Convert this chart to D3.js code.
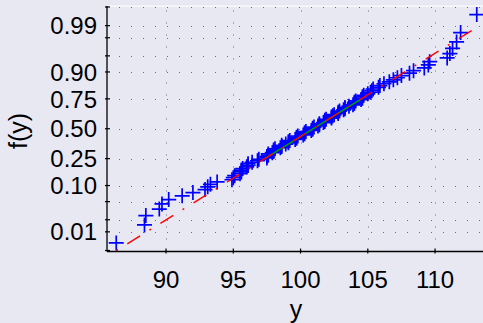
<!DOCTYPE html>
<html><head><meta charset="utf-8">
<script src="https://cdn.jsdelivr.net/npm/d3@7"></script>
<style>html,body{margin:0;padding:0;background:#e8e8f2;overflow:hidden}</style>
</head><body>
<svg id="c" width="483" height="323"></svg>
<script>
// Sorted sample values (n = 100)
const sampleValues = [
 86.3, 88.4, 88.5, 89.5, 89.7, 90.2, 91.2, 92.0, 92.9, 93.1,
 93.3, 93.8, 94.9, 95.0, 95.1, 95.5, 95.6, 95.6, 95.7, 96.0,
 96.1, 96.1, 96.4, 96.8, 96.9, 97.5, 97.5, 97.6, 97.6, 97.9,
 98.0, 98.0, 98.1, 98.5, 98.6, 98.6, 98.9, 99.1, 99.1, 99.2,
 99.6, 99.7, 99.7, 99.8, 100.2, 100.3, 100.3, 100.4, 100.8, 100.9,
 100.9, 101.0, 101.3, 101.4, 101.4, 101.7, 101.8, 101.8, 101.9, 102.3,
 102.3, 102.4, 102.5, 102.8, 102.8, 102.9, 103.2, 103.3, 103.3, 103.6,
 103.9, 104.0, 104.0, 104.1, 104.5, 104.6, 104.6, 104.7, 105.0, 105.2,
 105.3, 105.4, 105.8, 105.9, 106.2, 106.6, 106.9, 107.2, 107.5, 108.1,
 108.4, 109.2, 109.5, 109.6, 110.9, 111.1, 111.3, 111.6, 111.9, 113.1
];
const xTicks = [90, 95, 100, 105, 110];
const probTicks = [0.003, 0.01, 0.02, 0.05, 0.10, 0.25, 0.50, 0.75, 0.90, 0.95, 0.98, 0.99, 0.997];
const probLabels = ["", "0.01", "", "", "0.10", "0.25", "0.50", "0.75", "0.90", "", "", "0.99", ""];
const xLabel = "y";
const yLabel = "f(y)";

// inverse standard normal CDF (Acklam)
function norminv(p){
  const a=[-3.969683028665376e+01,2.209460984245205e+02,-2.759285104469687e+02,1.383577518672690e+02,-3.066479806614716e+01,2.506628277459239e+00];
  const b=[-5.447609879822406e+01,1.615858368580409e+02,-1.556989798598866e+02,6.680131188771972e+01,-1.328068155288572e+01];
  const c=[-7.784894002430293e-03,-3.223964580411365e-01,-2.400758277161838e+00,-2.549671010336200e+00,4.374664141464968e+00,2.938163982698783e+00];
  const d=[7.784695709041462e-03,3.224671290700398e-01,2.445134137142996e+00,3.754408661907416e+00];
  const pl=0.02425;
  let q,r;
  if(p<pl){q=Math.sqrt(-2*Math.log(p));return (((((c[0]*q+c[1])*q+c[2])*q+c[3])*q+c[4])*q+c[5])/((((d[0]*q+d[1])*q+d[2])*q+d[3])*q+1);}
  if(p>1-pl){q=Math.sqrt(-2*Math.log(1-p));return -(((((c[0]*q+c[1])*q+c[2])*q+c[3])*q+c[4])*q+c[5])/((((d[0]*q+d[1])*q+d[2])*q+d[3])*q+1);}
  q=p-0.5;r=q*q;
  return (((((a[0]*r+a[1])*r+a[2])*r+a[3])*r+a[4])*r+a[5])*q/(((((b[0]*r+b[1])*r+b[2])*r+b[3])*r+b[4])*r+1);
}

const L=107, R=489, T=6, B=251.5;
const svg=d3.select("#c");
const x=d3.scaleLinear().domain([85.613,114.01]).range([L,R]);
const y=d3.scaleLinear().domain([-2.77,2.77]).range([B,T]);

const n=sampleValues.length;
const pts=sampleValues.map((v,i)=>({x:v,z:norminv((i+0.5)/n)}));

// grid
const g=svg.append("g");
g.selectAll(".vg").data(xTicks).enter().append("line")
 .attr("x1",d=>Math.round(x(d))+0.5).attr("x2",d=>Math.round(x(d))+0.5)
 .attr("y1",B).attr("y2",T)
 .attr("stroke","#6e6e6e").attr("stroke-width",1).attr("stroke-dasharray","1,11");
g.selectAll(".hg").data(probTicks).enter().append("line")
 .attr("x1",L+12).attr("x2",R)
 .attr("y1",d=>Math.round(y(norminv(d)))+0.5).attr("y2",d=>Math.round(y(norminv(d)))+0.5)
 .attr("stroke","#6e6e6e").attr("stroke-width",1).attr("stroke-dasharray","1,11");

// markers
svg.append("g").selectAll("path").data(pts).enter().append("path")
 .attr("d",d=>`M${x(d.x)-7.5},${y(d.z)}H${x(d.x)+7.5}M${x(d.x)},${y(d.z)-7.5}V${y(d.z)+7.5}`)
 .attr("stroke","#0000ff").attr("stroke-width",1.7).attr("fill","none");

// reference lines
const q25=d3.quantile(sampleValues,0.25), q75=d3.quantile(sampleValues,0.75);
const z25=norminv(0.25), z75=norminv(0.75);
const slope=(z75-z25)/(q75-q25);
const lineZ=v=>z25+(v-q25)*slope;
const xmin=d3.min(sampleValues), xmax=d3.max(sampleValues);
svg.append("line").attr("x1",x(q25)).attr("y1",y(z25)).attr("x2",x(q75)).attr("y2",y(z75))
 .attr("stroke","#00a000").attr("stroke-width",1.4);
svg.append("line").attr("x1",x(xmin)).attr("y1",y(lineZ(xmin))).attr("x2",x(xmax)).attr("y2",y(lineZ(xmax)))
 .attr("stroke","#ff0000").attr("stroke-width",1.4).attr("stroke-dasharray","2,11,15,11");

// axes box
svg.append("line").attr("x1",L).attr("x2",R+5).attr("y1",T).attr("y2",T).attr("stroke","#ffffff").attr("stroke-width",1.2);
svg.append("line").attr("x1",L).attr("x2",L).attr("y1",T).attr("y2",B).attr("stroke","#000").attr("stroke-width",1.3);
svg.append("line").attr("x1",L).attr("x2",R+5).attr("y1",B).attr("y2",B).attr("stroke","#000").attr("stroke-width",1.3);

const FONT="Liberation Sans, Arial, sans-serif";
// y ticks
const yt=svg.append("g");
probTicks.forEach((p,i)=>{
  const yy=y(norminv(p));
  yt.append("line").attr("x1",L-2).attr("x2",L+3).attr("y1",yy).attr("y2",yy).attr("stroke","#000").attr("stroke-width",1.2);
  if(probLabels[i]) yt.append("text").attr("x",L-10).attr("y",yy).attr("dy","0.36em")
   .attr("text-anchor","end").attr("font-family",FONT).attr("font-size",24).attr("fill","#000").text(probLabels[i]);
});
// x ticks
xTicks.forEach(t=>{
  const xx=x(t);
  svg.append("line").attr("x1",xx).attr("x2",xx).attr("y1",B-3).attr("y2",B+2).attr("stroke","#000").attr("stroke-width",1.2);
  svg.append("text").attr("x",xx).attr("y",288).attr("text-anchor","middle")
   .attr("font-family",FONT).attr("font-size",24).attr("fill","#000").text(t);
});
svg.append("text").attr("x",296).attr("y",318).attr("text-anchor","middle")
 .attr("font-family",FONT).attr("font-size",25).text(xLabel);
svg.append("text").attr("transform","translate(27,131) rotate(-90)").attr("text-anchor","middle")
 .attr("font-family",FONT).attr("font-size",25).text(yLabel);
</script>
</body></html>
